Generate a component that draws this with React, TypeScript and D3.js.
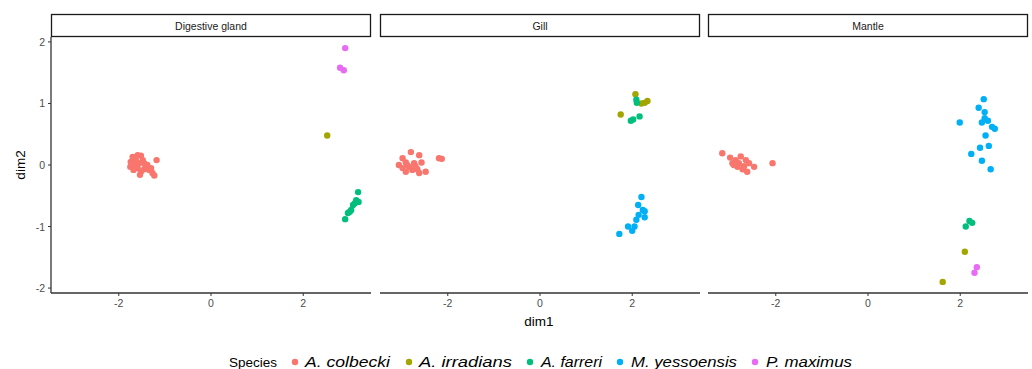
import React from 'react';
import * as d3 from 'd3';

const tissues = ['Digestive gland', 'Gill', 'Mantle'];
const species = ['A. colbecki', 'A. irradians', 'A. farreri', 'M. yessoensis', 'P. maximus'];
const speciesColors = ['#F8766D', '#A3A500', '#00BF7D', '#00B0F6', '#E76BF3'];
const xTicks = [-2, 0, 2];
const yTicks = [-2, -1, 0, 1, 2];

// [species index, dim1, dim2]
const digestivePts: [number, number, number][] = [
  [0, -1.70, 0.13], [0, -1.59, 0.16], [0, -1.52, 0.15], [0, -1.63, 0.08], [0, -1.74, 0.05],
  [0, -1.48, 0.08], [0, -1.45, 0.03], [0, -1.67, 0.0], [0, -1.56, 0.03], [0, -1.38, 0.0],
  [0, -1.59, -0.05], [0, -1.45, -0.07], [0, -1.34, -0.08], [0, -1.52, -0.11], [0, -1.27, -0.13],
  [0, -1.23, -0.17], [0, -1.54, -0.16], [0, -1.18, 0.08], [0, -1.75, -0.03], [0, -1.41, -0.03],
  [0, -1.30, -0.05], [0, -1.68, -0.08],
  [4, 2.91, 1.90], [4, 2.80, 1.58], [4, 2.88, 1.54],
  [1, 2.52, 0.48],
  [2, 3.19, -0.44], [2, 3.15, -0.57], [2, 3.20, -0.60], [2, 3.08, -0.65], [2, 3.04, -0.73],
  [2, 3.01, -0.76], [2, 2.97, -0.78], [2, 2.91, -0.88], [2, 3.12, -0.62],
];

const gillPts: [number, number, number][] = [
  [0, -2.80, 0.21], [0, -2.62, 0.16], [0, -2.98, 0.11], [0, -2.91, 0.04], [0, -3.06, 0.0],
  [0, -2.73, 0.03], [0, -2.57, 0.04], [0, -2.84, -0.03], [0, -2.98, -0.05], [0, -2.91, -0.11],
  [0, -2.77, -0.08], [0, -2.66, -0.07], [0, -2.62, -0.13], [0, -2.48, -0.11], [0, -2.19, 0.11],
  [0, -2.88, 0.0], [0, -2.70, -0.02], [0, -2.13, 0.10],
  [1, 2.07, 1.15], [1, 2.27, 1.01], [1, 2.33, 1.04], [1, 2.20, 1.00], [1, 1.75, 0.82],
  [2, 2.09, 1.06], [2, 2.10, 1.01], [2, 2.16, 0.79], [2, 2.02, 0.74], [2, 1.97, 0.72],
  [3, 2.20, -0.52], [3, 2.13, -0.65], [3, 2.23, -0.73], [3, 2.27, -0.75], [3, 2.14, -0.81],
  [3, 2.27, -0.85], [3, 2.09, -0.89], [3, 2.05, -1.0], [3, 1.91, -1.0], [3, 2.0, -1.07],
  [3, 1.72, -1.12],
];

const mantlePts: [number, number, number][] = [
  [0, -3.16, 0.19], [0, -2.99, 0.12], [0, -2.76, 0.14], [0, -2.87, 0.08], [0, -2.65, 0.08],
  [0, -2.94, 0.03], [0, -2.80, 0.03], [0, -2.58, 0.03], [0, -2.83, -0.03], [0, -2.69, -0.02],
  [0, -2.47, -0.03], [0, -2.72, -0.07], [0, -2.62, -0.11], [0, -2.07, 0.03], [0, -2.91, 0.0],
  [3, 2.51, 1.07], [3, 2.40, 0.93], [3, 2.53, 0.86], [3, 2.53, 0.76], [3, 2.60, 0.72],
  [3, 2.47, 0.69], [3, 1.99, 0.69], [3, 2.69, 0.62], [3, 2.75, 0.59], [3, 2.55, 0.48],
  [3, 2.62, 0.31], [3, 2.43, 0.28], [3, 2.24, 0.18], [3, 2.47, 0.07], [3, 2.66, -0.07],
  [2, 2.20, -0.91], [2, 2.26, -0.94], [2, 2.12, -1.00],
  [1, 2.10, -1.41], [1, 1.62, -1.90],
  [4, 2.36, -1.66], [4, 2.31, -1.75],
];

const panelPts = [digestivePts, gillPts, mantlePts];

const FONT = '"Liberation Sans", Arial, Helvetica, sans-serif';

export default function App() {
  const width = 1032;
  const height = 369;
  const panelLefts = [51, 380, 708];
  const panelW = 320;
  const top = 37;
  const bottom = 293;
  const stripTop = 14;

  const y = d3.scaleLinear().domain([-2.08, 2.08]).range([bottom, top]);
  const xFor = (left: number) => d3.scaleLinear().domain([-3.47, 3.47]).range([left, left + panelW]);

  // legend layout (dot x, text x, text width)
  const legendY = 362;
  const legendItems = [
    { dot: 295, text: 305, w: 85 },
    { dot: 409, text: 419, w: 93 },
    { dot: 530, text: 541, w: 61 },
    { dot: 620, text: 631, w: 106 },
    { dot: 755, text: 766, w: 86 },
  ];

  return (
    <svg width={width} height={height} style={{ position: 'absolute', left: 0, top: 0, background: '#fff' }} fontFamily={FONT}>
      {tissues.map((t, pi) => {
        const left = panelLefts[pi];
        const x = xFor(left);
        return (
          <g key={t}>
            {/* strip */}
            <rect x={left + 0.5} y={stripTop + 0.5} width={panelW - 1} height={top - stripTop - 1}
              fill="#fff" stroke="#1a1a1a" strokeWidth={1.3} />
            <text x={left + panelW / 2} y={(stripTop + top) / 2 + 4} textAnchor="middle" fontSize={10.5} fill="#1a1a1a">{t}</text>
            {/* x axis */}
            <line x1={left} x2={left + panelW} y1={bottom} y2={bottom} stroke="#333" strokeWidth={1.3} />
            {xTicks.map(v => (
              <g key={v}>
                <line x1={x(v)} x2={x(v)} y1={bottom} y2={bottom + 3} stroke="#333" strokeWidth={1} />
                <text x={x(v)} y={bottom + 14} textAnchor="middle" fontSize={10.5} fill="#4D4D4D">{v}</text>
              </g>
            ))}
            {/* points */}
            {panelPts[pi].map((p, i) => (
              <circle key={i} cx={x(p[1])} cy={y(p[2])} r={3.2} fill={speciesColors[p[0]]} />
            ))}
          </g>
        );
      })}
      {/* y axis */}
      <line x1={panelLefts[0]} x2={panelLefts[0]} y1={top} y2={bottom} stroke="#333" strokeWidth={1.3} />
      {yTicks.map(v => (
        <g key={v}>
          <line x1={panelLefts[0] - 3} x2={panelLefts[0]} y1={y(v)} y2={y(v)} stroke="#333" strokeWidth={1} />
          <text x={panelLefts[0] - 6} y={y(v) + 4} textAnchor="end" fontSize={10.5} fill="#4D4D4D">{v}</text>
        </g>
      ))}
      {/* axis titles */}
      <text x={539} y={326} textAnchor="middle" fontSize={13.5} fill="#000">dim1</text>
      <text transform={`translate(25,${y(0)}) rotate(-90)`} textAnchor="middle" fontSize={13.5} fill="#000">dim2</text>
      {/* legend */}
      <text x={229} y={legendY + 5} fontSize={13.5} fill="#000">Species</text>
      {species.map((s, i) => (
        <g key={s}>
          <circle cx={legendItems[i].dot} cy={legendY} r={3.2} fill={speciesColors[i]} />
          <text x={legendItems[i].text} y={legendY + 5} fontSize={15} fontStyle="italic" fill="#000"
            textLength={legendItems[i].w} lengthAdjust="spacingAndGlyphs">{s}</text>
        </g>
      ))}
    </svg>
  );
}
